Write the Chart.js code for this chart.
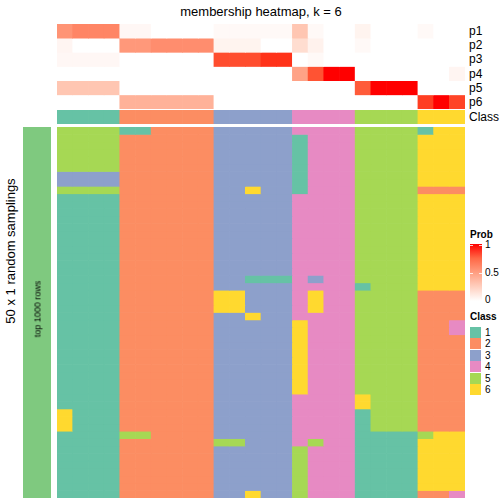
<!DOCTYPE html>
<html>
<head>
<meta charset="utf-8">
<script src="https://cdn.jsdelivr.net/npm/chart.js@4/dist/chart.umd.min.js"></script>
<style>
  body { margin: 0; background: #fff; font-family: "Liberation Sans", Arial, sans-serif; }
  #page { position: relative; width: 504px; height: 504px; overflow: hidden; }
  canvas { position: absolute; }
  .txt { position: absolute; color: #000; white-space: nowrap; line-height: 1; }
  .swatch { position: absolute; width: 11px; height: 11px; }
</style>
</head>
<body>
<div id="page">
  <canvas id="prob_chart" width="408" height="85" style="left:57px;top:24px"></canvas>
  <canvas id="class_chart" width="408" height="14" style="left:57px;top:110px"></canvas>
  <canvas id="main_chart" width="408" height="371" style="left:57px;top:127px"></canvas>
  <canvas id="rows_chart" width="28" height="371" style="left:23px;top:127px"></canvas>
</div>
<script>
// columns of the consensus matrix (26 samples) and their final class
const columns = ["s1","s2","s3","s4","s5","s6","s7","s8","s9","s10","s11","s12","s13",
                 "s14","s15","s16","s17","s18","s19","s20","s21","s22","s23","s24","s25","s26"];
const columnClass = [1,1,1,1, 2,2,2,2,2,2, 3,3,3,3,3, 4,4,4,4, 5,5,5,5, 6,6,6];

// membership probabilities per column
const probNames = ["p1","p2","p3","p4","p5","p6"];
const p1 = [0.55,0.62,0.62,0.62, 0.04,0.04,0,0,0,0, 0.03,0.03,0.03,0.03,0.03, 0.3,0.03,0,0, 0.06,0,0,0, 0.03,0,0];
const p2 = [0.05,0,0,0, 0.53,0.53,0.58,0.58,0.58,0.58, 0.06,0.06,0.06,0,0, 0.18,0.07,0,0, 0.03,0,0,0, 0,0,0];
const p3 = [0.04,0.04,0.04,0.04, 0,0,0,0,0,0, 0.85,0.85,0.85,0.93,0.93, 0,0.03,0,0, 0,0,0,0, 0,0,0];
const p4 = [0,0,0,0, 0,0,0,0,0,0, 0,0,0,0,0, 0.48,0.83,1,1, 0,0,0,0, 0,0,0.05];
const p5 = [0.3,0.3,0.3,0.3, 0,0,0,0,0,0, 0,0,0,0,0, 0,0,0,0, 0.8,1,1,1, 0,0,0];
const p6 = [0,0,0,0, 0.4,0.4,0.4,0.4,0.4,0.4, 0,0,0,0,0, 0,0,0,0, 0,0,0,0, 0.9,1,0.88];
const probs = [p1, p2, p3, p4, p5, p6];

// class of each column in each of the 50 random samplings
const samplings = [
  [5,5,5,5, 1,1,2,2,2,2, 3,3,3,3,3, 4,4,4,4, 5,5,5,5, 1,6,6],
  [5,5,5,5, 2,2,2,2,2,2, 3,3,3,3,3, 1,4,4,4, 5,5,5,5, 6,6,6],
  [5,5,5,5, 2,2,2,2,2,2, 3,3,3,3,3, 1,4,4,4, 5,5,5,5, 6,6,6],
  [5,5,5,5, 2,2,2,2,2,2, 3,3,3,3,3, 1,4,4,4, 5,5,5,5, 6,6,6],
  [5,5,5,5, 2,2,2,2,2,2, 3,3,3,3,3, 1,4,4,4, 5,5,5,5, 6,6,6],
  [5,5,5,5, 2,2,2,2,2,2, 3,3,3,3,3, 1,4,4,4, 5,5,5,5, 6,6,6],
  [3,3,3,3, 2,2,2,2,2,2, 3,3,3,3,3, 1,4,4,4, 5,5,5,5, 6,6,6],
  [3,3,3,3, 2,2,2,2,2,2, 3,3,3,3,3, 1,4,4,4, 5,5,5,5, 6,6,6],
  [5,5,5,5, 2,2,2,2,2,2, 3,3,6,3,3, 1,4,4,4, 5,5,5,5, 2,2,2],
  [1,1,1,1, 2,2,2,2,2,2, 3,3,3,3,3, 4,4,4,4, 5,5,5,5, 6,6,6],
  [1,1,1,1, 2,2,2,2,2,2, 3,3,3,3,3, 4,4,4,4, 5,5,5,5, 6,6,6],
  [1,1,1,1, 2,2,2,2,2,2, 3,3,3,3,3, 4,4,4,4, 5,5,5,5, 6,6,6],
  [1,1,1,1, 2,2,2,2,2,2, 3,3,3,3,3, 4,4,4,4, 5,5,5,5, 6,6,6],
  [1,1,1,1, 2,2,2,2,2,2, 3,3,3,3,3, 4,4,4,4, 5,5,5,5, 6,6,6],
  [1,1,1,1, 2,2,2,2,2,2, 3,3,3,3,3, 4,4,4,4, 5,5,5,5, 6,6,6],
  [1,1,1,1, 2,2,2,2,2,2, 3,3,3,3,3, 4,4,4,4, 5,5,5,5, 6,6,6],
  [1,1,1,1, 2,2,2,2,2,2, 3,3,3,3,3, 4,4,4,4, 5,5,5,5, 6,6,6],
  [1,1,1,1, 2,2,2,2,2,2, 3,3,3,3,3, 4,4,4,4, 5,5,5,5, 6,6,6],
  [1,1,1,1, 2,2,2,2,2,2, 3,3,3,3,3, 4,4,4,4, 5,5,5,5, 6,6,6],
  [1,1,1,1, 2,2,2,2,2,2, 3,3,3,3,3, 4,4,4,4, 5,5,5,5, 6,6,6],
  [1,1,1,1, 2,2,2,2,2,2, 3,3,1,1,1, 4,3,4,4, 5,5,5,5, 6,6,6],
  [1,1,1,1, 2,2,2,2,2,2, 3,3,3,3,3, 4,4,4,4, 1,5,5,5, 6,6,6],
  [1,1,1,1, 2,2,2,2,2,2, 6,6,3,3,3, 4,6,4,4, 5,5,5,5, 2,2,2],
  [1,1,1,1, 2,2,2,2,2,2, 6,6,3,3,3, 4,6,4,4, 5,5,5,5, 2,2,2],
  [1,1,1,1, 2,2,2,2,2,2, 6,6,3,3,3, 4,6,4,4, 5,5,5,5, 2,2,2],
  [1,1,1,1, 2,2,2,2,2,2, 3,3,6,3,3, 4,4,4,4, 5,5,5,5, 2,2,2],
  [1,1,1,1, 2,2,2,2,2,2, 3,3,3,3,3, 6,4,4,4, 5,5,5,5, 2,2,4],
  [1,1,1,1, 2,2,2,2,2,2, 3,3,3,3,3, 6,4,4,4, 5,5,5,5, 2,2,4],
  [1,1,1,1, 2,2,2,2,2,2, 3,3,3,3,3, 6,4,4,4, 5,5,5,5, 2,2,2],
  [1,1,1,1, 2,2,2,2,2,2, 3,3,3,3,3, 6,4,4,4, 5,5,5,5, 2,2,2],
  [1,1,1,1, 2,2,2,2,2,2, 3,3,3,3,3, 6,4,4,4, 5,5,5,5, 2,2,2],
  [1,1,1,1, 2,2,2,2,2,2, 3,3,3,3,3, 6,4,4,4, 5,5,5,5, 2,2,2],
  [1,1,1,1, 2,2,2,2,2,2, 3,3,3,3,3, 6,4,4,4, 5,5,5,5, 2,2,2],
  [1,1,1,1, 2,2,2,2,2,2, 3,3,3,3,3, 6,4,4,4, 5,5,5,5, 2,2,2],
  [1,1,1,1, 2,2,2,2,2,2, 3,3,3,3,3, 6,4,4,4, 5,5,5,5, 2,2,2],
  [1,1,1,1, 2,2,2,2,2,2, 3,3,3,3,3, 6,4,4,4, 5,5,5,5, 2,2,2],
  [1,1,1,1, 2,2,2,2,2,2, 3,3,3,3,3, 4,4,4,4, 6,5,5,5, 2,2,2],
  [1,1,1,1, 2,2,2,2,2,2, 3,3,3,3,3, 4,4,4,4, 6,5,5,5, 2,2,2],
  [6,1,1,1, 2,2,2,2,2,2, 3,3,3,3,3, 4,4,4,4, 1,5,5,5, 2,2,2],
  [6,1,1,1, 2,2,2,2,2,2, 3,3,3,3,3, 4,4,4,4, 1,5,5,5, 2,2,2],
  [6,1,1,1, 2,2,2,2,2,2, 3,3,3,3,3, 4,4,4,4, 1,5,5,5, 2,2,2],
  [1,1,1,1, 5,5,2,2,2,2, 3,3,3,3,3, 4,4,4,4, 1,1,1,1, 5,6,6],
  [1,1,1,1, 2,2,2,2,2,2, 5,5,3,3,3, 4,5,4,4, 1,1,1,1, 6,6,6],
  [1,1,1,1, 2,2,2,2,2,2, 3,3,3,3,3, 5,4,4,4, 1,1,1,1, 6,6,6],
  [1,1,1,1, 2,2,2,2,2,2, 3,3,3,3,3, 5,4,4,4, 1,1,1,1, 6,6,6],
  [1,1,1,1, 2,2,2,2,2,2, 3,3,3,3,3, 5,4,4,4, 1,1,1,1, 6,6,6],
  [1,1,1,1, 2,2,2,2,2,2, 3,3,3,3,3, 5,4,4,4, 1,1,1,1, 6,6,6],
  [1,1,1,1, 2,2,2,2,2,2, 3,3,3,3,3, 5,4,4,4, 1,1,1,1, 6,6,6],
  [1,1,1,1, 2,2,2,2,2,2, 3,3,3,3,3, 5,4,4,4, 1,1,1,1, 6,6,6],
  [1,1,1,1, 2,2,2,2,2,2, 3,3,6,3,3, 5,4,4,4, 1,1,1,1, 2,2,4]
];

const classLabels = ["1","2","3","4","5","6"];
const classColors = ["#66C2A5","#FC8D62","#8DA0CB","#E78AC3","#A6D854","#FFD92F"];
const rowAnnotColor = "#7FC97F";
const probTicks = [1, 0.5, 0];

// white -> red in LAB space, like colorRamp2
function toLab(hex) {
    const v = [1, 3, 5].map(i => parseInt(hex.substr(i, 2), 16) / 255)
        .map(c => c <= 0.04045 ? c / 12.92 : Math.pow((c + 0.055) / 1.055, 2.4));
    const X = (0.4124 * v[0] + 0.3576 * v[1] + 0.1805 * v[2]) / 0.95047;
    const Y = 0.2126 * v[0] + 0.7152 * v[1] + 0.0722 * v[2];
    const Z = (0.0193 * v[0] + 0.1192 * v[1] + 0.9505 * v[2]) / 1.08883;
    const f = t => t > 0.008856 ? Math.cbrt(t) : 7.787 * t + 16 / 116;
    return [116 * f(Y) - 16, 500 * (f(X) - f(Y)), 200 * (f(Y) - f(Z))];
}
function fromLab(L, a, b) {
    const fy = (L + 16) / 116, fx = fy + a / 500, fz = fy - b / 200;
    const inv = t => t * t * t > 0.008856 ? t * t * t : (t - 16 / 116) / 7.787;
    const X = 0.95047 * inv(fx), Y = inv(fy), Z = 1.08883 * inv(fz);
    const lin = [3.2406 * X - 1.5372 * Y - 0.4986 * Z,
                 -0.9689 * X + 1.8758 * Y + 0.0415 * Z,
                 0.0557 * X - 0.2040 * Y + 1.0570 * Z];
    const rgb = lin.map(c => c <= 0.0031308 ? 12.92 * c : 1.055 * Math.pow(c, 1 / 2.4) - 0.055)
        .map(c => Math.round(Math.min(1, Math.max(0, c)) * 255));
    return `rgb(${rgb[0]},${rgb[1]},${rgb[2]})`;
}
const labWhite = toLab("#FFFFFF"), labRed = toLab("#FF0000");
function probColor(p) {
    return fromLab(...labWhite.map((w, i) => w + (labRed[i] - w) * p));
}

// draw a grid of cells as floating bars, one dataset per row
function makeGrid(id, labels, rowColors) {
    const datasets = rowColors.map((colors, r) => ({
        data: labels.map(() => [r, r + 1]),
        backgroundColor: colors,
        borderWidth: 0,
        grouped: false,
        barPercentage: 1,
        categoryPercentage: 1
    }));
    return new Chart(document.getElementById(id).getContext("2d"), {
        type: "bar",
        data: { labels: labels, datasets: datasets },
        options: {
            responsive: false,
            animation: false,
            devicePixelRatio: 1,
            layout: { padding: 0 },
            plugins: { legend: { display: false }, tooltip: { enabled: false } },
            scales: {
                x: { display: false },
                y: { display: false, min: 0, max: rowColors.length, reverse: true }
            }
        }
    });
}

makeGrid("prob_chart", columns, probs.map(row => row.map(probColor)));
makeGrid("class_chart", columns, [columnClass.map(c => classColors[c - 1])]);
makeGrid("main_chart", columns, samplings.map(row => row.map(c => classColors[c - 1])));
makeGrid("rows_chart", ["top 1000 rows"], [[rowAnnotColor]]);

// texts and legends
const page = document.getElementById("page");
function addText(text, x, y, size, opts = {}) {
    const el = document.createElement("div");
    el.className = "txt";
    el.innerText = text;
    el.style.fontSize = size + "px";
    if (opts.bold) el.style.fontWeight = "bold";
    el.style.left = x + "px";
    el.style.top = y + "px";
    const tx = opts.center ? "-50%" : "0";
    el.style.transform = `translate(${tx}, -50%)` + (opts.rotate ? " rotate(-90deg)" : "");
    page.appendChild(el);
    return el;
}

addText("membership heatmap, k = 6", 261, 11, 13, { center: true });
probNames.forEach((name, i) => addText(name, 469, 31 + i * 14.2, 12));
addText("Class", 469, 117, 12);
addText("50 x 1 random samplings", 10, 251, 13, { center: true, rotate: true });
addText("top 1000 rows", 38, 309, 9, { center: true, rotate: true });

// Prob colour bar
const bar = document.createElement("div");
bar.style.cssText = "position:absolute;left:470px;top:244px;width:12px;height:57px;";
bar.style.background = "linear-gradient(to bottom," +
    [1, 0.75, 0.5, 0.25, 0].map(p => probColor(p)).join(",") + ")";
page.appendChild(bar);
addText("Prob", 470, 235, 10, { bold: true });
probTicks.forEach(t => {
    const y = 245 + (1 - t) * 55;
    addText(String(t), 485, y, 10);
    if (t > 0) {
        ["470px", "479px"].forEach(left => {
            const tick = document.createElement("div");
            tick.style.cssText = `position:absolute;left:${left};top:${Math.round(y)}px;width:3px;height:1px;background:rgba(255,255,255,0.8);`;
            page.appendChild(tick);
        });
    }
});

// Class legend
addText("Class", 470, 317, 10, { bold: true });
classLabels.forEach((lab, i) => {
    const sw = document.createElement("div");
    sw.className = "swatch";
    sw.style.left = "470px";
    sw.style.top = (327 + i * 11.4) + "px";
    sw.style.background = classColors[i];
    page.appendChild(sw);
    addText(lab, 485, 333 + i * 11.4, 10);
});
</script>
</body>
</html>
